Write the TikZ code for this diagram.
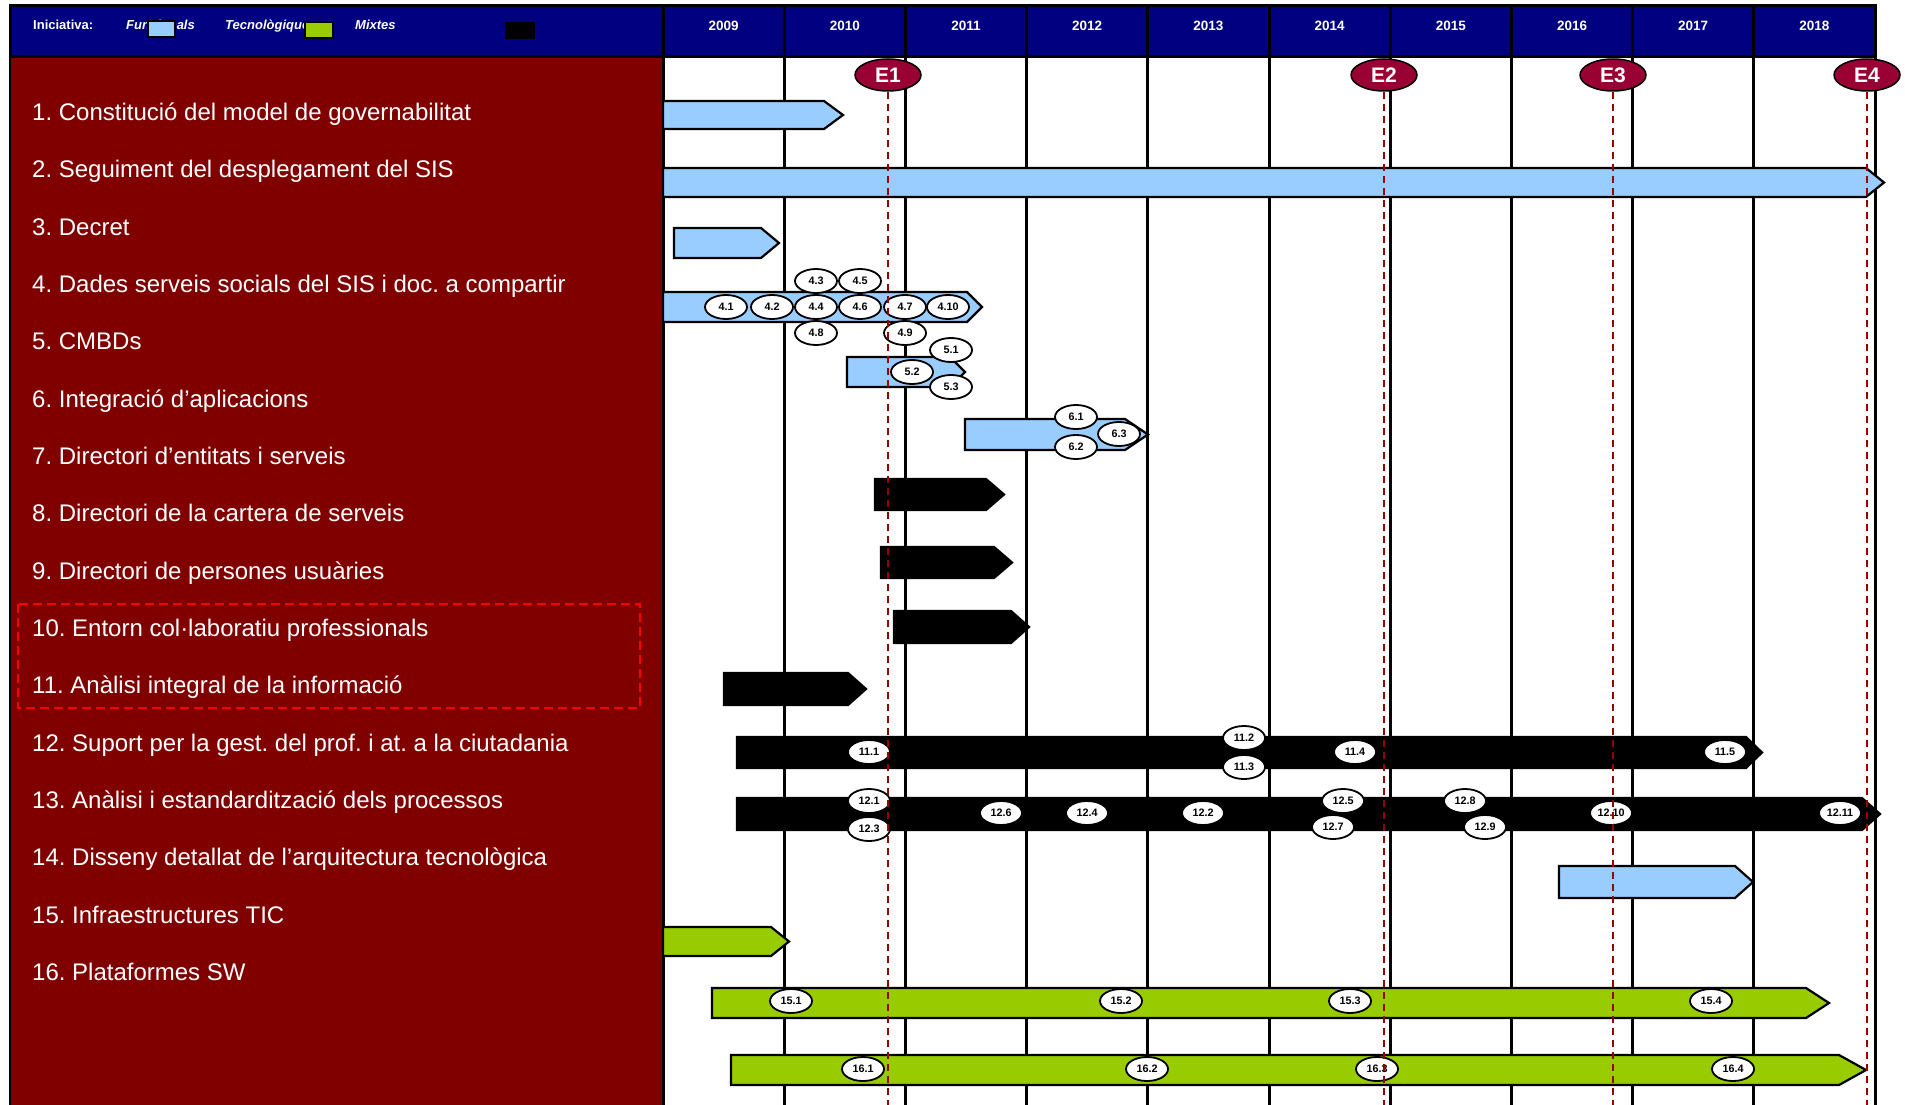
\documentclass[tikz,border=0pt]{standalone}
\usepackage{fontspec}
\setmainfont{Liberation Sans}
\usetikzlibrary{shapes.geometric}
\definecolor{navyhdr}{RGB}{0,0,128}
\definecolor{panelred}{RGB}{128,0,0}
\definecolor{funcblue}{RGB}{153,204,255}
\definecolor{tecgreen}{RGB}{153,204,0}
\definecolor{milefill}{RGB}{153,0,51}
\definecolor{miledash}{RGB}{153,0,0}
\newcommand\ganttbar[6]{\draw[barline,fill=#1] (#2,#3) -- (#4,#3) -- (#5,{(#3+#6)/2}) -- (#4,#6) -- (#2,#6) -- cycle;}
\frenchspacing
\begin{document}
\begin{tikzpicture}[x=1pt,y=-1pt,
  barline/.style={draw=black,line width=2.2pt,line join=miter},
  lbl/.style={ellipse,draw=black,line width=1.8pt,fill=white,minimum width=42pt,minimum height=24pt,inner sep=0pt,font=\bfseries\fontsize{10.8}{11}\selectfont},
  mile/.style={ellipse,draw=black,line width=1.5pt,fill=milefill,minimum width=66pt,minimum height=32pt,inner sep=0pt,text=white,font=\bfseries\fontsize{21}{21}\selectfont},
  mdash/.style={draw=miledash,line width=1.6pt,dash pattern=on 7pt off 5pt},
  rowlabel/.style={anchor=base west,inner sep=0pt,text=white,font=\fontsize{24}{28}\selectfont},
  yr/.style={inner sep=0pt,text=white,font=\bfseries\fontsize{13.5}{14}\selectfont},
  legtxt/.style={anchor=base west,inner sep=0pt,text=white,font=\bfseries\itshape\fontsize{13}{14}\selectfont},
  gridline/.style={draw=black,line width=3pt}
]
\useasboundingbox (0,0) rectangle (1905,1105);
\fill[white] (0,0) rectangle (1905,1105);
% header
\fill[navyhdr] (10,6) rectangle (1875,57);
% left panel
\fill[panelred] (10,57) rectangle (663,1105);
\draw[black,line width=2.5pt] (10,57) -- (10,1105);
\draw[black,line width=3pt] (10,6) rectangle (1875,57);
% grid lines
\draw[gridline] (663,6) -- (663,1105);
\foreach \k in {1,...,10} {
  \draw[gridline] ({663+121.2*\k},6) -- ({663+121.2*\k},1105);
}
% years
\foreach \y [count=\k from 0] in {2009,2010,2011,2012,2013,2014,2015,2016,2017,2018} {
  \node[yr] (y\y) at ({663+121.2*(\k+0.5)},25.5) {\y};
}
% legend
\node[anchor=base west,inner sep=0pt,text=white,font=\bfseries\fontsize{13}{14}\selectfont] (leg0) at (33,30) {Iniciativa:};
\node[legtxt] (leg1) at (126,30) {Funcionals};
\node[legtxt] (leg2) at (225,30) {Tecnològiques};
\node[legtxt] (leg3) at (355,30) {Mixtes};
\draw[fill=funcblue,draw=black,line width=2pt] (148,21) rectangle (175,37);
\draw[fill=tecgreen,draw=black,line width=2pt] (305,22) rectangle (333,38);
\fill[black] (505,22) rectangle (535,39);
% bars
\ganttbar{funcblue}{663}{101}{824}{843}{129}
\ganttbar{funcblue}{663}{168}{1866}{1884}{197}
\ganttbar{funcblue}{674}{228}{761}{779}{258}
\ganttbar{funcblue}{663}{292}{967}{982}{322}
\ganttbar{funcblue}{847}{357}{950}{965}{387}
\ganttbar{funcblue}{965}{419}{1125}{1148}{450}
\ganttbar{black}{875}{479}{986}{1004}{510}
\ganttbar{black}{881}{547}{994}{1012}{578}
\ganttbar{black}{894}{611}{1011}{1029}{643}
\ganttbar{black}{724}{673}{848}{866}{705}
\ganttbar{black}{737}{737}{1746}{1762}{768}
\ganttbar{black}{737}{798}{1862}{1880}{830}
\ganttbar{funcblue}{1559}{866}{1735}{1753}{898}
\ganttbar{tecgreen}{663}{927}{771}{789}{956}
\ganttbar{tecgreen}{712}{988}{1806}{1829}{1018}
\ganttbar{tecgreen}{731}{1055}{1839}{1866}{1085}
% sub-activity ellipses
\node[lbl] (e41) at (726,307) {4.1};
\node[lbl] (e42) at (772,307) {4.2};
\node[lbl] (e44) at (816,307) {4.4};
\node[lbl] (e46) at (860,307) {4.6};
\node[lbl] (e47) at (905,307) {4.7};
\node[lbl] (e410) at (948,307) {4.10};
\node[lbl] (e43) at (816,281) {4.3};
\node[lbl] (e45) at (860,281) {4.5};
\node[lbl] (e48) at (816,333) {4.8};
\node[lbl] (e49) at (905,333) {4.9};
\node[lbl] (e51) at (951,350) {5.1};
\node[lbl] (e52) at (912,372) {5.2};
\node[lbl] (e53) at (951,387) {5.3};
\node[lbl] (e61) at (1076,417) {6.1};
\node[lbl] (e62) at (1076,447) {6.2};
\node[lbl] (e63) at (1119,434) {6.3};
\node[lbl] (e111) at (869,752) {11.1};
\node[lbl] (e112) at (1244,738) {11.2};
\node[lbl] (e113) at (1244,767) {11.3};
\node[lbl] (e114) at (1355,752) {11.4};
\node[lbl] (e115) at (1725,752) {11.5};
\node[lbl] (e121) at (869,801) {12.1};
\node[lbl] (e123) at (869,829) {12.3};
\node[lbl] (e126) at (1001,813) {12.6};
\node[lbl] (e124) at (1087,813) {12.4};
\node[lbl] (e122) at (1203,813) {12.2};
\node[lbl] (e125) at (1343,801) {12.5};
\node[lbl] (e127) at (1333,827) {12.7};
\node[lbl] (e128) at (1465,801) {12.8};
\node[lbl] (e129) at (1485,827) {12.9};
\node[lbl] (e1210) at (1611,813) {12.10};
\node[lbl] (e1211) at (1840,813) {12.11};
\node[lbl] (e151) at (791,1001) {15.1};
\node[lbl] (e152) at (1121,1001) {15.2};
\node[lbl] (e153) at (1350,1001) {15.3};
\node[lbl] (e154) at (1711,1001) {15.4};
\node[lbl] (e161) at (863,1069) {16.1};
\node[lbl] (e162) at (1147,1069) {16.2};
\node[lbl] (e163) at (1377,1069) {16.3};
\node[lbl] (e164) at (1733,1069) {16.4};
% milestones
\node[mile] (m1) at (888,75) {E1};
\node[mile] (m2) at (1384,75) {E2};
\node[mile] (m3) at (1613,75) {E3};
\node[mile] (m4) at (1867,75) {E4};
\coordinate (m1b) at (888,1105);
\coordinate (m2b) at (1384,1105);
\coordinate (m3b) at (1613,1105);
\coordinate (m4b) at (1867,1105);
\draw[mdash] (m1.south) -- (m1b);
\draw[mdash] (m2.south) -- (m2b);
\draw[mdash] (m3.south) -- (m3b);
\draw[mdash] (m4.south) -- (m4b);
% row labels
\foreach \t [count=\i] in {
  {1. Constitució del model de governabilitat},
  {2. Seguiment del desplegament del SIS},
  {3. Decret},
  {4. Dades serveis socials del SIS i doc. a compartir},
  {5. CMBDs},
  {6. Integració d’aplicacions},
  {7. Directori d’entitats i serveis},
  {8. Directori de la cartera de serveis},
  {9. Directori de persones usuàries},
  {10. Entorn col·laboratiu professionals},
  {11. Anàlisi integral de la informació},
  {12. Suport per la gest. del prof. i at. a la ciutadania},
  {13. Anàlisi i estandardització dels processos},
  {14. Disseny detallat de l’arquitectura tecnològica},
  {15. Infraestructures TIC},
  {16. Plataformes SW}} {
  \node[rowlabel] (lab\i) at (32,{120.5+57.33*(\i-1)}) {\t};
}
% dashed highlight box
\draw[draw=red,line width=2pt,dash pattern=on 9pt off 5pt] (18,604) rectangle (640,708);
\end{tikzpicture}
\end{document}
